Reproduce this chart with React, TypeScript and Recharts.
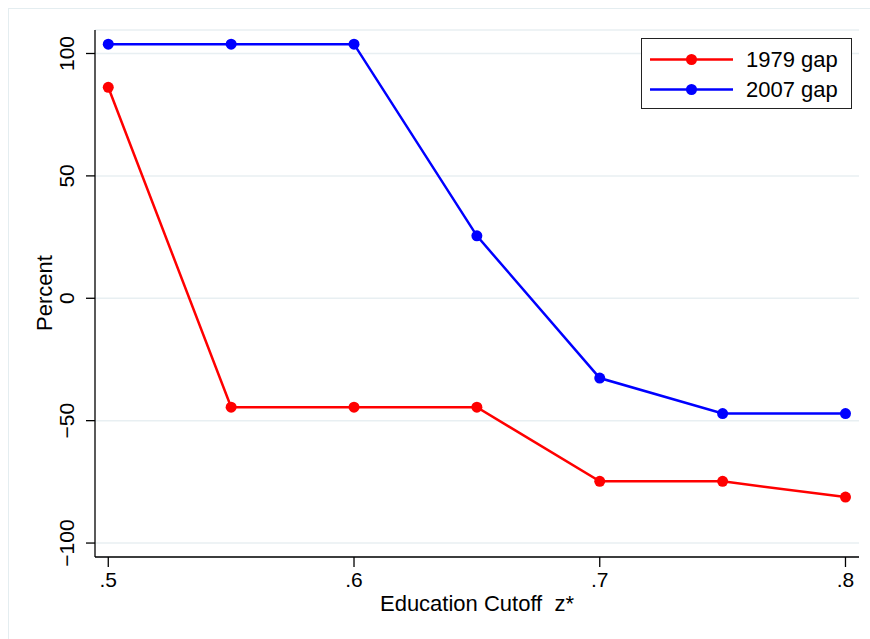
import { LineChart, Line, XAxis, YAxis, CartesianGrid, Legend, Label } from 'recharts';

const cutoffs = [0.5, 0.55, 0.6, 0.65, 0.7, 0.75, 0.8];
const gap1979 = [86.2, -44.5, -44.5, -44.5, -74.8, -74.8, -81.2];
const gap2007 = [103.8, 103.8, 103.8, 25.5, -32.6, -47.1, -47.1];
const xTicks = [0.5, 0.6, 0.7, 0.8];
const yTicks = [-100, -50, 0, 50, 100];
const seriesNames = ['1979 gap', '2007 gap'];

const RED = '#ff0000';
const BLUE = '#0000ff';
const FONT = '"Liberation Sans", Arial, Helvetica, sans-serif';

const data = cutoffs.map((z, i) => ({ z, g1979: gap1979[i], g2007: gap2007[i] }));

const fmtX = (v: number) => String(v).replace(/^0/, '');

function YTick({ x, y, payload }: any) {
  const tx = x - 11.7;
  return (
    <text
      x={tx}
      y={y}
      transform={`rotate(-90, ${tx}, ${y})`}
      textAnchor="middle"
      fontSize={21}
      fontFamily={FONT}
      fill="#000"
    >
      {payload.value < 0 ? `\u2212${Math.abs(payload.value)}` : payload.value}
    </text>
  );
}

function XTick({ x, y, payload }: any) {
  return (
    <text x={x} y={y + 19.7} textAnchor="middle" fontSize={21} fontFamily={FONT} fill="#000">
      {fmtX(payload.value)}
    </text>
  );
}

function LegendBox() {
  const colors = [RED, BLUE];
  return (
    <div
      style={{
        width: 211,
        height: 71,
        boxSizing: 'border-box',
        border: '1.4px solid #222',
        background: '#fff',
      }}
    >
      <svg width={209} height={69}>
        {seriesNames.map((name, i) => {
          const cy = 20.5 + i * 30;
          return (
            <g key={name}>
              <line x1={8} x2={91} y1={cy} y2={cy} stroke={colors[i]} strokeWidth={2.5} />
              <circle cx={49.5} cy={cy} r={5.5} fill={colors[i]} />
              <text x={104} y={cy + 7.5} fontSize={22} fontFamily={FONT} fill="#000">
                {name}
              </text>
            </g>
          );
        })}
      </svg>
    </div>
  );
}

export default function App() {
  return (
    <div
      style={{
        position: 'absolute',
        left: 0,
        top: 0,
        width: 870,
        height: 639,
        overflow: 'hidden',
        background: '#fff',
      }}
    >
      <div
        style={{
          position: 'absolute',
          left: 8,
          top: 8,
          width: 900,
          height: 700,
          borderTop: '1px solid #e4edf0',
          borderLeft: '1px solid #e4edf0',
        }}
      />
      <LineChart
        width={870}
        height={639}
        data={data}
        margin={{ top: 30, right: 11, left: 0, bottom: 22 }}
        style={{ position: 'absolute', left: 0, top: 0 }}
      >
        <CartesianGrid vertical={false} stroke="#e8eff2" strokeWidth={1.5} />
        <XAxis
          dataKey="z"
          type="number"
          domain={[0.4946, 0.8055]}
          ticks={xTicks}
          height={60}
          tickSize={10}
          tickMargin={0}
          tick={<XTick />}
          axisLine={{ stroke: '#000', strokeWidth: 1.3 }}
          tickLine={{ stroke: '#000', strokeWidth: 1.3 }}
          allowDataOverflow
        >
          <Label
            content={() => (
              <text x={477} y={610.7} textAnchor="middle" fontSize={22} fontFamily={FONT} fill="#000">
                {'Education Cutoff\u00a0\u00a0z*'}
              </text>
            )}
          />
        </XAxis>
        <YAxis
          type="number"
          domain={[-105.7, 109.6]}
          ticks={yTicks}
          width={95}
          tickSize={9}
          tickMargin={0}
          tick={<YTick />}
          axisLine={{ stroke: '#000', strokeWidth: 1.3 }}
          tickLine={{ stroke: '#000', strokeWidth: 1.3 }}
          allowDataOverflow
        >
          <Label
            content={() => (
              <text
                x={51.7}
                y={293}
                transform="rotate(-90, 51.7, 293)"
                textAnchor="middle"
                fontSize={22}
                fontFamily={FONT}
                fill="#000"
              >
                Percent
              </text>
            )}
          />
        </YAxis>
        <Legend
          layout="horizontal"
          verticalAlign="middle"
          align="center"
          content={() => <LegendBox />}
          wrapperStyle={{ position: 'absolute', left: 641, top: 38, width: 211, height: 71 }}
        />
        <Line
          type="linear"
          dataKey="g1979"
          name={seriesNames[0]}
          stroke={RED}
          strokeWidth={2.5}
          dot={{ r: 5.5, fill: RED, stroke: 'none' }}
          activeDot={false}
          isAnimationActive={false}
        />
        <Line
          type="linear"
          dataKey="g2007"
          name={seriesNames[1]}
          stroke={BLUE}
          strokeWidth={2.5}
          dot={{ r: 5.5, fill: BLUE, stroke: 'none' }}
          activeDot={false}
          isAnimationActive={false}
        />
      </LineChart>
    </div>
  );
}
